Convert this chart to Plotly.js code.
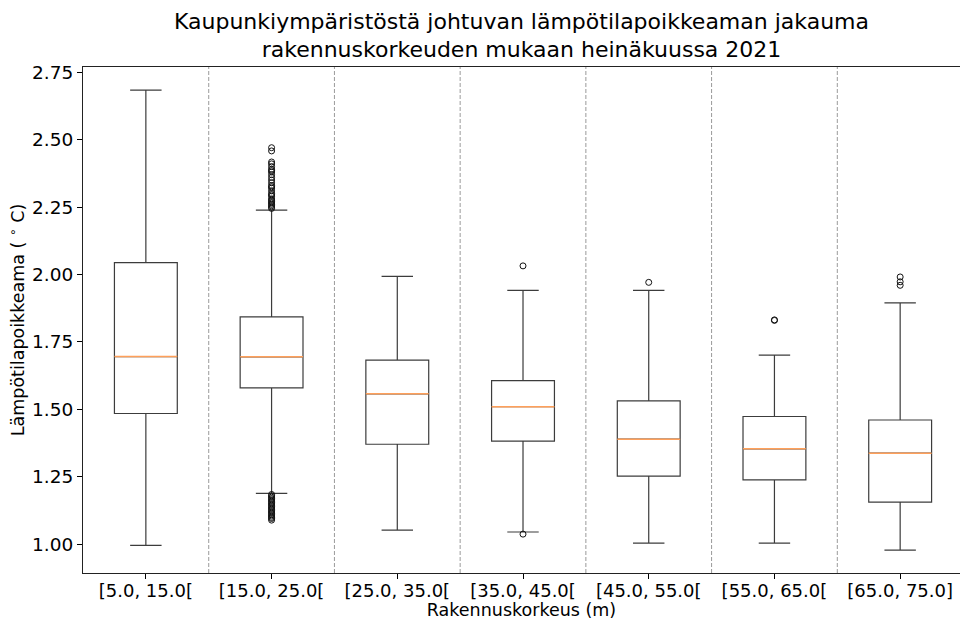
<!DOCTYPE html>
<html>
<head>
<meta charset="utf-8">
<script src="https://cdn.plot.ly/plotly-3.0.1.min.js"></script>
<style>
  html, body { margin: 0; padding: 0; background: #fff; overflow: hidden; }
  #chart { width: 960px; height: 620px; }
</style>
</head>
<body>
<div id="chart"></div>
<script>
// ---- data ----
const categories = ['[5.0, 15.0[', '[15.0, 25.0[', '[25.0, 35.0[', '[35.0, 45.0[', '[45.0, 55.0[', '[55.0, 65.0[', '[65.0, 75.0]'];
const q1 = [1.485, 1.580, 1.371, 1.383, 1.253, 1.239, 1.157];
const median = [1.696, 1.695, 1.558, 1.510, 1.390, 1.354, 1.338];
const q3 = [2.044, 1.843, 1.683, 1.607, 1.532, 1.474, 1.461];
const lowerWhisker = [0.996, 1.189, 1.053, 1.046, 1.005, 1.005, 0.979];
const upperWhisker = [2.683, 2.239, 1.993, 1.941, 1.941, 1.701, 1.895];
const outliers = [
  [],
  [2.245, 2.250, 2.255, 2.260, 2.265, 2.270, 2.275, 2.280, 2.290, 2.295, 2.300, 2.310, 2.320, 2.325,
   2.330, 2.340, 2.350, 2.360, 2.370, 2.380, 2.385, 2.390, 2.400, 2.410, 2.417, 2.458, 2.470,
   1.185, 1.180, 1.175, 1.170, 1.165, 1.160, 1.155, 1.150, 1.145, 1.140, 1.135, 1.130, 1.125,
   1.120, 1.115, 1.110, 1.105, 1.100, 1.096, 1.090],
  [],
  [2.032, 1.038],
  [1.971],
  [1.832, 1.830],
  [1.991, 1.973, 1.960]
];
const yTicks = [1.00, 1.25, 1.50, 1.75, 2.00, 2.25, 2.50, 2.75];

// ---- build traces ----
const pos = categories.map((c, i) => i);
const boxHalf = 0.25;

const boxTrace = {
  type: 'box',
  x: pos,
  q1: q1,
  median: median,
  q3: q3,
  lowerfence: lowerWhisker,
  upperfence: upperWhisker,
  width: 2 * boxHalf,
  whiskerwidth: 0.5,
  boxpoints: false,
  fillcolor: 'rgba(255,255,255,0)',
  line: { color: '#3c3c3c', width: 1.2 },
  hoverinfo: 'skip',
  showlegend: false
};

const medX = [], medY = [];
pos.forEach((p, i) => { medX.push(p - boxHalf, p + boxHalf, null); medY.push(median[i], median[i], null); });
const medianTrace = {
  type: 'scatter', mode: 'lines', x: medX, y: medY,
  line: { color: 'rgb(255,160,90)', width: 1.5 },
  hoverinfo: 'skip', showlegend: false
};

const fx = [], fy = [];
outliers.forEach((arr, i) => arr.forEach(v => { fx.push(pos[i]); fy.push(v); }));
const flierTrace = {
  type: 'scatter', mode: 'markers', x: fx, y: fy,
  marker: { symbol: 'circle-open', size: 6, color: '#111', line: { width: 1, color: '#111' } },
  hoverinfo: 'skip', showlegend: false
};

const shapes = pos.slice(0, -1).map(p => ({
  type: 'line', xref: 'x', yref: 'paper', x0: p + 0.5, x1: p + 0.5, y0: 0, y1: 1,
  line: { color: '#9a9a9a', width: 1, dash: '4px,2px' }, layer: 'below'
}));

const font = { family: 'DejaVu Sans, sans-serif', color: '#000' };

const layout = {
  width: 960, height: 620,
  margin: { l: 83, r: 0, t: 67, b: 47 },
  paper_bgcolor: '#fff', plot_bgcolor: '#fff',
  font: Object.assign({ size: 18 }, font),
  title: {
    text: 'Kaupunkiympäristöstä johtuvan lämpötilapoikkeaman jakauma<br>rakennuskorkeuden mukaan heinäkuussa 2021',
    font: Object.assign({ size: 22 }, font),
    x: 0.5, xref: 'paper', xanchor: 'center',
    y: 0.954, yref: 'container', yanchor: 'top'
  },
  xaxis: {
    range: [-0.5, 6.476],
    tickmode: 'array', tickvals: pos, ticktext: categories,
    ticks: 'outside', ticklen: 5, tickcolor: '#000', tickwidth: 1,
    ticklabelstandoff: -4,
    showline: true, linecolor: '#222', linewidth: 1, mirror: true,
    showgrid: false, zeroline: false,
    tickfont: Object.assign({ size: 18 }, font),
    title: { text: 'Rakennuskorkeus (m)', font: Object.assign({ size: 17.5 }, font), standoff: 0 }
  },
  yaxis: {
    range: [0.894, 2.769],
    tickmode: 'array', tickvals: yTicks, ticktext: yTicks.map(v => v.toFixed(2)),
    ticks: 'outside', ticklen: 5, tickcolor: '#000', tickwidth: 1,
    showline: true, linecolor: '#222', linewidth: 1,
    showgrid: false, zeroline: false,
    tickfont: Object.assign({ size: 18.5 }, font),
    title: { text: 'Lämpötilapoikkeama ( <sup>∘</sup> C)', font: Object.assign({ size: 17.5 }, font), standoff: 2 }
  },
  shapes: shapes
};

Plotly.newPlot('chart', [boxTrace, medianTrace, flierTrace], layout, { displayModeBar: false, staticPlot: true });
</script>
</body>
</html>
